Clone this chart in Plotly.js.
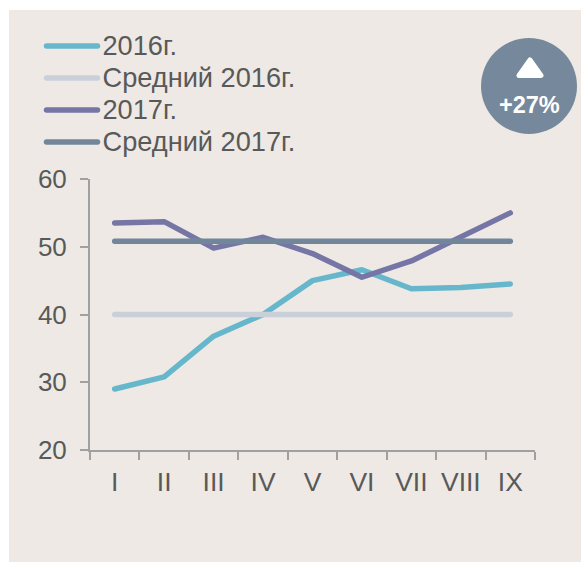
<!DOCTYPE html>
<html><head><meta charset="utf-8">
<script src="https://cdn.plot.ly/plotly-3.0.1.min.js"></script>
<style>html,body{margin:0;padding:0;background:#fff}
path.js-line{stroke-linecap:round!important;stroke-linejoin:round!important}
.shapelayer path{stroke-linejoin:round!important}
text.legendtext{font-size:27.2px!important}
</style></head>
<body><div id="c" style="width:581px;height:562px"></div>
<script>
const months=['I','II','III','IV','V','VI','VII','VIII','IX'];
const s2016=[29,30.8,36.8,40,45,46.6,43.8,44,44.5];
const avg2016=[40,40,40,40,40,40,40,40,40];
const s2017=[53.5,53.7,49.8,51.4,49,45.5,47.9,51.5,55];
const avg2017=[50.8,50.8,50.8,50.8,50.8,50.8,50.8,50.8,50.8];
const W=581,H=562,L=90,T=179,PW=445,PH=271;
const px=x=>(x-L)/PW, py=y=>1-(y-T)/PH;
const line=(name,y,color,w)=>({type:'scatter',mode:'lines',name,x:months,y,line:{color,width:w,shape:'linear'}});
const traces=[
 line('2016г.',s2016,'#67B7CC',5.5),
 line('Средний 2016г.',avg2016,'#C9D0DA',5.5),
 line('2017г.',s2017,'#7676A6',5.5),
 line('Средний 2017г.',avg2017,'#71869B',5.5)
];
const layout={
 width:W,height:H,margin:{l:L,t:T,r:W-L-PW,b:H-T-PH},
 paper_bgcolor:'#ffffff',plot_bgcolor:'rgba(0,0,0,0)',
 font:{family:'Liberation Sans, Arial, sans-serif',size:26,color:'#595959'},
 showlegend:true,
 legend:{x:px(41.5),y:py(25),xanchor:'left',yanchor:'top',bgcolor:'rgba(0,0,0,0)',itemwidth:51,
  font:{size:22.3,color:'#595959'},traceorder:'normal',itemclick:false},
 xaxis:{type:'category',categoryorder:'array',categoryarray:months,range:[-0.5,8.5],tickson:'boundaries',
  ticks:'outside',ticklen:8,tickwidth:2,tickcolor:'#A0A0A0',showline:true,linecolor:'#A0A0A0',linewidth:2,
  showgrid:false,zeroline:false,tickangle:0,tickfont:{size:26.5,color:'#595959'},ticklabelstandoff:7,fixedrange:true},
 yaxis:{range:[20,60],tickvals:[20,30,40,50,60],ticktext:['20','30','40','50','60'],tickmode:'array',
  ticks:'outside',ticklen:8,tickwidth:2,tickcolor:'#A0A0A0',showline:true,linecolor:'#A0A0A0',linewidth:2,
  showgrid:false,zeroline:false,tickfont:{size:26,color:'#595959'},ticklabelstandoff:8,fixedrange:true},
 shapes:[
  {type:'rect',layer:'below',xref:'paper',yref:'paper',x0:px(9),x1:px(581),y0:py(10),y1:py(562),fillcolor:'#EEE9E5',line:{width:0}},
  {type:'circle',layer:'above',xref:'paper',yref:'paper',x0:px(481),x1:px(577),y0:py(38),y1:py(134),fillcolor:'#76899C',line:{width:0}},
  {type:'path',layer:'above',xref:'paper',yref:'paper',
   path:`M ${px(530)} ${py(60)} L ${px(541)} ${py(75.5)} L ${px(519)} ${py(75.5)} Z`,
   fillcolor:'#ffffff',line:{color:'#ffffff',width:5}}
 ],
 annotations:[{xref:'paper',yref:'paper',x:px(529.5),y:py(105),text:'<b>+27%</b>',showarrow:false,
  xanchor:'center',yanchor:'middle',font:{size:23.5,color:'#ffffff'}}]
};
Plotly.newPlot('c',traces,layout,{displayModeBar:false,staticPlot:true});
</script></body></html>
